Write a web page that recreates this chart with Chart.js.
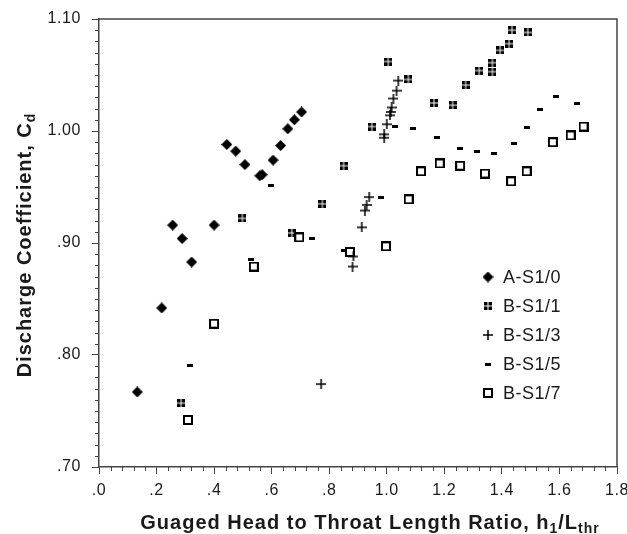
<!DOCTYPE html>
<html>
<head>
<meta charset="utf-8">
<script src="https://cdn.jsdelivr.net/npm/chart.js@4.4.0/dist/chart.umd.min.js"></script>
<style>
html,body{margin:0;padding:0;background:#fff}
#wrap{width:627px;height:534px}
</style>
</head>
<body>
<div id="wrap"><canvas id="chart"></canvas></div>
<script>

// values
let labels = ["A-S1/0","B-S1/1","B-S1/3","B-S1/5","B-S1/7"]

let xA = [0.133,0.218,0.256,0.289,0.322,0.400,0.444,0.475,0.507,0.559,0.567,0.605,0.631,0.656,0.679,0.704]
let yA = [0.767,0.842,0.916,0.904,0.883,0.916,0.988,0.982,0.970,0.960,0.961,0.974,0.987,1.002,1.010,1.017]

let xB1 = [0.285,0.498,0.670,0.776,0.850,0.948,1.005,1.075,1.164,1.229,1.274,1.321,1.367,1.367,1.394,1.425,1.435,1.490]
let yB1 = [0.757,0.922,0.909,0.935,0.969,1.004,1.062,1.046,1.025,1.023,1.041,1.054,1.061,1.053,1.072,1.078,1.090,1.088]

let xB3 = [0.772,0.881,0.884,0.913,0.924,0.930,0.939,0.991,0.991,1.000,1.011,1.014,1.017,1.023,1.034,1.040]
let yB3 = [0.774,0.879,0.888,0.914,0.929,0.934,0.941,0.997,0.994,1.006,1.014,1.017,1.021,1.029,1.036,1.045]

let xB5 = [0.316,0.527,0.597,0.740,0.852,0.980,1.028,1.090,1.175,1.255,1.312,1.371,1.443,1.487,1.532,1.588,1.660]
let yB5 = [0.791,0.885,0.951,0.904,0.893,0.941,1.004,1.002,0.994,0.984,0.982,0.980,0.989,1.003,1.019,1.031,1.025]

let xB7 = [0.309,0.400,0.538,0.696,0.872,0.997,1.076,1.119,1.184,1.255,1.341,1.432,1.486,1.577,1.639,1.684]
let yB7 = [0.742,0.828,0.879,0.905,0.892,0.897,0.939,0.964,0.971,0.969,0.962,0.955,0.964,0.990,0.996,1.004]

let xMin = 0, xMax = 1.8, xStep = 0.2
let yMin = 0.7, yMax = 1.1, yStep = 0.1

let font = "'Liberation Sans', Arial, sans-serif"
let ink = "#1a1a1a"

// marker images
function mk(w,h,draw){
let c = document.createElement("canvas")
c.width = w; c.height = h
let g = c.getContext("2d")
g.fillStyle = "#000"; g.strokeStyle = "#000"
draw(g)
return c
}

let diamond = mk(11,11,g=>{
g.beginPath(); g.moveTo(5.5,0); g.lineTo(11,5.5); g.lineTo(5.5,11); g.lineTo(0,5.5); g.closePath(); g.fill()
})
let quad = mk(8,8,g=>{
g.fillRect(0,0,3.5,3.5); g.fillRect(4.5,0,3.5,3.5); g.fillRect(0,4.5,3.5,3.5); g.fillRect(4.5,4.5,3.5,3.5)
})
let plus = mk(10,10,g=>{
g.lineWidth = 1.5
g.beginPath(); g.moveTo(0,5); g.lineTo(10,5); g.moveTo(5,0); g.lineTo(5,10); g.stroke()
})
let dash = mk(6,3,g=>{ g.fillRect(0,0,6,3) })
let box = mk(10,10,g=>{
g.fillStyle = "#fff"; g.fillRect(1,1,8,8)
g.lineWidth = 2; g.strokeRect(1,1,8,8)
})

let styles = [diamond,quad,plus,dash,box]
let xs = [xA,xB1,xB3,xB5,xB7]
let ys = [yA,yB1,yB3,yB5,yB7]

let datasets = labels.map((l,i)=>({
label:l,
data:xs[i].map((x,j)=>({x:x,y:ys[i][j]})),
pointStyle:styles[i],
pointRadius:6,
pointHoverRadius:6,
showLine:false
}))

// minor ticks, frame, titles and legend
let extras = {
id:"extras",
beforeDraw(chart){
chart.ctx.letterSpacing = "0.6px"
},
afterDraw(chart){
let ctx = chart.ctx
let a = chart.chartArea
let sx = chart.scales.x, sy = chart.scales.y
ctx.save()
ctx.strokeStyle = "#444"
ctx.lineWidth = 1
ctx.beginPath()
for(let i=0;i<=45;i++){
if(i%5==0) continue
let px = Math.round(sx.getPixelForValue(i*0.04))+0.5
ctx.moveTo(px,a.bottom); ctx.lineTo(px,a.bottom+4)
}
for(let i=0;i<=40;i++){
if(i%10==0) continue
let py = Math.round(sy.getPixelForValue(0.7+i*0.01))+0.5
ctx.moveTo(a.left-4,py); ctx.lineTo(a.left,py)
}
ctx.stroke()

ctx.lineWidth = 1.5
ctx.strokeStyle = "#444"
ctx.beginPath()
ctx.moveTo(a.left,a.top); ctx.lineTo(a.right,a.top); ctx.lineTo(a.right,a.bottom)
ctx.stroke()

// x title
ctx.fillStyle = ink
ctx.textBaseline = "alphabetic"
ctx.letterSpacing = "1px"
let parts = [["Guaged Head to Throat Length Ratio, h",0],["1",1],["/L",0],["thr",1]]
let big = "bold 20px "+font, small = "bold 14px "+font
let w = 0
parts.forEach(p=>{ ctx.font = p[1]?small:big; w += ctx.measureText(p[0]).width })
let x = 370 - w/2
parts.forEach(p=>{
ctx.font = p[1]?small:big
ctx.fillText(p[0],x,p[1]?533:529)
x += ctx.measureText(p[0]).width
})

// y title
ctx.translate(31,245)
ctx.rotate(-Math.PI/2)
let yparts = [["Discharge Coefficient, C",0],["d",1]]
w = 0
yparts.forEach(p=>{ ctx.font = p[1]?small:big; w += ctx.measureText(p[0]).width })
x = -w/2
yparts.forEach(p=>{
ctx.font = p[1]?small:big
ctx.fillText(p[0],x,p[1]?4:0)
x += ctx.measureText(p[0]).width
})
ctx.restore()

// legend
ctx.save()
ctx.letterSpacing = "0.5px"
ctx.font = "18px "+font
ctx.fillStyle = ink
ctx.textBaseline = "middle"
labels.forEach((l,i)=>{
let ly = 277 + i*29
let s = styles[i]
ctx.drawImage(s,488-s.width/2,ly-s.height/2)
ctx.fillText(l,503,ly+1)
})
ctx.restore()
}
}

function fmt(v,d){ return Number(v).toFixed(d).replace(/^0/,"") }

new Chart(document.getElementById("chart"),{
type:"scatter",
data:{datasets:datasets},
options:{
responsive:true,
maintainAspectRatio:false,
animation:false,
layout:{padding:{top:19,right:10,left:0,bottom:0}},
plugins:{legend:{display:false},tooltip:{enabled:false}},
scales:{
x:{
type:"linear",
min:xMin,max:xMax,
afterFit(s){ s.height = 67; s.paddingLeft = 0; s.paddingRight = 0 },
ticks:{stepSize:xStep,padding:7,color:ink,font:{family:font,size:16},callback:v=>fmt(v,1)},
grid:{drawOnChartArea:false,tickLength:7,tickColor:"#444",tickWidth:1},
border:{color:"#444",width:1.5}
},
y:{
type:"linear",
min:yMin,max:yMax,
afterFit(s){ s.width = 99; s.paddingTop = 0; s.paddingBottom = 0 },
ticks:{stepSize:yStep,padding:11,color:ink,font:{family:font,size:16},callback:v=>fmt(v,2)},
grid:{drawOnChartArea:false,tickLength:7,tickColor:"#444",tickWidth:1},
border:{color:"#444",width:1.5}
}
}
},
plugins:[extras]
})

</script>
</body>
</html>
